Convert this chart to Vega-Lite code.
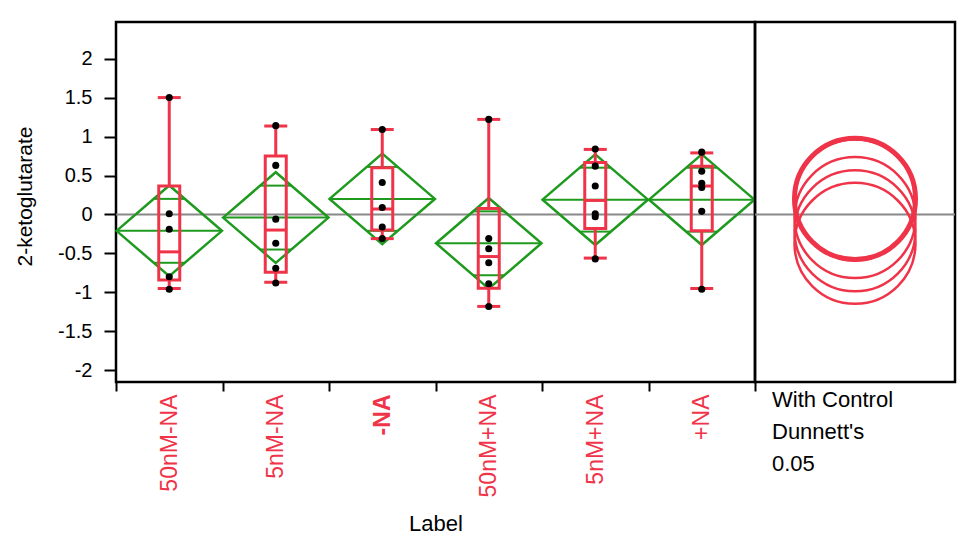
{
  "$schema": "https://vega.github.io/schema/vega-lite/v6.json",
  "padding": {"left": 13, "top": 20, "right": 5, "bottom": 5},
  "background": "white",
  "spacing": 0,
  "bounds": "flush",
  "config": {
    "view": {"stroke": "black", "strokeWidth": 2.5},
    "concat": {"spacing": 0},
    "font": "Liberation Sans"
  },
  "datasets": {
    "stats": [
      {"label": "50nM-NA", "lo": -0.95, "q1": -0.84, "med": -0.48, "q3": 0.365, "hi": 1.5, "mean": -0.21, "ovHi": 0.2, "ovLo": -0.62},
      {"label": "5nM-NA", "lo": -0.87, "q1": -0.74, "med": -0.2, "q3": 0.75, "hi": 1.135, "mean": -0.04, "ovHi": 0.37, "ovLo": -0.45},
      {"label": "-NA", "lo": -0.31, "q1": -0.2, "med": 0.07, "q3": 0.6, "hi": 1.09, "mean": 0.2, "ovHi": 0.61, "ovLo": -0.21},
      {"label": "50nM+NA", "lo": -1.18, "q1": -0.946, "med": -0.54, "q3": 0.077, "hi": 1.22, "mean": -0.37, "ovHi": 0.04, "ovLo": -0.78},
      {"label": "5nM+NA", "lo": -0.56, "q1": -0.18, "med": 0.18, "q3": 0.667, "hi": 0.835, "mean": 0.19, "ovHi": 0.6, "ovLo": -0.22},
      {"label": "+NA", "lo": -0.95, "q1": -0.21, "med": 0.365, "q3": 0.62, "hi": 0.79, "mean": 0.19, "ovHi": 0.6, "ovLo": -0.22}
    ],
    "pts": [
      {"label": "50nM-NA", "v": 1.5}, {"label": "50nM-NA", "v": 0.01}, {"label": "50nM-NA", "v": -0.19}, {"label": "50nM-NA", "v": -0.8}, {"label": "50nM-NA", "v": -0.96},
      {"label": "5nM-NA", "v": 1.14}, {"label": "5nM-NA", "v": 0.63}, {"label": "5nM-NA", "v": -0.06}, {"label": "5nM-NA", "v": -0.37}, {"label": "5nM-NA", "v": -0.69}, {"label": "5nM-NA", "v": -0.88},
      {"label": "-NA", "v": 1.09}, {"label": "-NA", "v": 0.41}, {"label": "-NA", "v": 0.09}, {"label": "-NA", "v": -0.16}, {"label": "-NA", "v": -0.31},
      {"label": "50nM+NA", "v": 1.22}, {"label": "50nM+NA", "v": -0.31}, {"label": "50nM+NA", "v": -0.44}, {"label": "50nM+NA", "v": -0.62}, {"label": "50nM+NA", "v": -0.89}, {"label": "50nM+NA", "v": -1.18},
      {"label": "5nM+NA", "v": 0.84}, {"label": "5nM+NA", "v": 0.62}, {"label": "5nM+NA", "v": 0.365}, {"label": "5nM+NA", "v": 0.01}, {"label": "5nM+NA", "v": -0.03}, {"label": "5nM+NA", "v": -0.57},
      {"label": "+NA", "v": 0.8}, {"label": "+NA", "v": 0.555}, {"label": "+NA", "v": 0.4}, {"label": "+NA", "v": 0.345}, {"label": "+NA", "v": 0.04}, {"label": "+NA", "v": -0.96}
    ],
    "gm": [{"grandMean": 0}]
  },
  "hconcat": [
    {
      "width": 639,
      "height": 360,
      "layer": [
        {
          "data": {"name": "gm"},
          "mark": {"type": "rule", "color": "#888888", "strokeWidth": 2},
          "encoding": {
            "y": {"field": "grandMean", "type": "quantitative", "title": "2-ketoglutarate",
              "scale": {"domain": [-2.15, 2.47], "nice": false, "zero": false},
              "axis": {"values": [-2, -1.5, -1, -0.5, 0, 0.5, 1, 1.5, 2], "labelExpr": "'' + datum.value", "tickSize": 12, "tickWidth": 2, "tickColor": "black", "domain": false, "grid": false, "labelFontSize": 20, "labelColor": "black", "labelPadding": 12, "labelFont": "Liberation Sans", "labelFlush": false, "labelOverlap": false, "titleFont": "Liberation Sans", "titleFontSize": 21, "titleFontWeight": "normal", "titleColor": "black", "titlePadding": 22, "titleY": 174}}
          }
        },
        {
          "data": {"name": "stats"},
          "mark": {"type": "point", "shape": "M -1 0 L 0 -0.86 L 1 0 L 0 0.86 Z", "size": 11109, "filled": false, "color": "#1e9a1e", "strokeWidth": 2.5, "opacity": 1},
          "encoding": {
            "x": {"field": "label", "type": "nominal", "title": "Label",
              "scale": {"domain": ["50nM-NA", "5nM-NA", "-NA", "50nM+NA", "5nM+NA", "+NA"], "paddingInner": 0, "paddingOuter": 0},
              "axis": {"tickBand": "extent", "tickSize": 9, "tickWidth": 2, "tickColor": "black", "domain": false, "grid": false, "labelAngle": -90, "labelFont": "Liberation Sans", "labelFontSize": 23, "labelColor": "#ef3449", "labelPadding": 3, "labelOverlap": false, "labelBound": false,
                "labelFontWeight": {"condition": {"test": "datum.value === '-NA'", "value": "bold"}, "value": "normal"},
                "titleFont": "Liberation Sans", "titleFontSize": 22, "titleFontWeight": "normal", "titleColor": "black", "titlePadding": 17}},
            "y": {"field": "mean", "type": "quantitative", "scale": {"domain": [-2.15, 2.47], "nice": false, "zero": false}}
          }
        },
        {
          "data": {"name": "stats"},
          "mark": {"type": "tick", "color": "#1e9a1e", "size": 105, "thickness": 2, "opacity": 1},
          "encoding": {
            "x": {"field": "label", "type": "nominal", "scale": {"domain": ["50nM-NA", "5nM-NA", "-NA", "50nM+NA", "5nM+NA", "+NA"], "paddingInner": 0, "paddingOuter": 0}},
            "y": {"field": "mean", "type": "quantitative", "scale": {"domain": [-2.15, 2.47], "nice": false, "zero": false}}
          }
        },
        {
          "data": {"name": "stats"},
          "mark": {"type": "tick", "color": "#1e9a1e", "size": 30, "thickness": 2, "opacity": 1},
          "encoding": {
            "x": {"field": "label", "type": "nominal", "scale": {"domain": ["50nM-NA", "5nM-NA", "-NA", "50nM+NA", "5nM+NA", "+NA"], "paddingInner": 0, "paddingOuter": 0}},
            "y": {"field": "ovHi", "type": "quantitative", "scale": {"domain": [-2.15, 2.47], "nice": false, "zero": false}}
          }
        },
        {
          "data": {"name": "stats"},
          "mark": {"type": "tick", "color": "#1e9a1e", "size": 30, "thickness": 2, "opacity": 1},
          "encoding": {
            "x": {"field": "label", "type": "nominal", "scale": {"domain": ["50nM-NA", "5nM-NA", "-NA", "50nM+NA", "5nM+NA", "+NA"], "paddingInner": 0, "paddingOuter": 0}},
            "y": {"field": "ovLo", "type": "quantitative", "scale": {"domain": [-2.15, 2.47], "nice": false, "zero": false}}
          }
        },
        {
          "data": {"name": "stats"},
          "mark": {"type": "rule", "color": "#ef3449", "strokeWidth": 3},
          "encoding": {
            "x": {"field": "label", "type": "nominal", "scale": {"domain": ["50nM-NA", "5nM-NA", "-NA", "50nM+NA", "5nM+NA", "+NA"], "paddingInner": 0, "paddingOuter": 0}},
            "y": {"field": "q3", "type": "quantitative", "scale": {"domain": [-2.15, 2.47], "nice": false, "zero": false}},
            "y2": {"field": "hi"}
          }
        },
        {
          "data": {"name": "stats"},
          "mark": {"type": "rule", "color": "#ef3449", "strokeWidth": 3},
          "encoding": {
            "x": {"field": "label", "type": "nominal", "scale": {"domain": ["50nM-NA", "5nM-NA", "-NA", "50nM+NA", "5nM+NA", "+NA"], "paddingInner": 0, "paddingOuter": 0}},
            "y": {"field": "lo", "type": "quantitative", "scale": {"domain": [-2.15, 2.47], "nice": false, "zero": false}},
            "y2": {"field": "q1"}
          }
        },
        {
          "data": {"name": "stats"},
          "mark": {"type": "bar", "width": 21, "fill": "transparent", "stroke": "#ef3449", "strokeWidth": 3},
          "encoding": {
            "x": {"field": "label", "type": "nominal", "scale": {"domain": ["50nM-NA", "5nM-NA", "-NA", "50nM+NA", "5nM+NA", "+NA"], "paddingInner": 0, "paddingOuter": 0}},
            "y": {"field": "q1", "type": "quantitative", "scale": {"domain": [-2.15, 2.47], "nice": false, "zero": false}},
            "y2": {"field": "q3"}
          }
        },
        {
          "data": {"name": "stats"},
          "mark": {"type": "tick", "color": "#ef3449", "size": 21, "thickness": 3, "opacity": 1},
          "encoding": {
            "x": {"field": "label", "type": "nominal", "scale": {"domain": ["50nM-NA", "5nM-NA", "-NA", "50nM+NA", "5nM+NA", "+NA"], "paddingInner": 0, "paddingOuter": 0}},
            "y": {"field": "med", "type": "quantitative", "scale": {"domain": [-2.15, 2.47], "nice": false, "zero": false}}
          }
        },
        {
          "data": {"name": "stats"},
          "mark": {"type": "tick", "color": "#ef3449", "size": 23, "thickness": 3, "opacity": 1},
          "encoding": {
            "x": {"field": "label", "type": "nominal", "scale": {"domain": ["50nM-NA", "5nM-NA", "-NA", "50nM+NA", "5nM+NA", "+NA"], "paddingInner": 0, "paddingOuter": 0}},
            "y": {"field": "hi", "type": "quantitative", "scale": {"domain": [-2.15, 2.47], "nice": false, "zero": false}}
          }
        },
        {
          "data": {"name": "stats"},
          "mark": {"type": "tick", "color": "#ef3449", "size": 23, "thickness": 3, "opacity": 1},
          "encoding": {
            "x": {"field": "label", "type": "nominal", "scale": {"domain": ["50nM-NA", "5nM-NA", "-NA", "50nM+NA", "5nM+NA", "+NA"], "paddingInner": 0, "paddingOuter": 0}},
            "y": {"field": "lo", "type": "quantitative", "scale": {"domain": [-2.15, 2.47], "nice": false, "zero": false}}
          }
        },
        {
          "data": {"name": "pts"},
          "mark": {"type": "point", "filled": true, "color": "black", "size": 50, "opacity": 1},
          "encoding": {
            "x": {"field": "label", "type": "nominal", "scale": {"domain": ["50nM-NA", "5nM-NA", "-NA", "50nM+NA", "5nM+NA", "+NA"], "paddingInner": 0, "paddingOuter": 0}},
            "y": {"field": "v", "type": "quantitative", "scale": {"domain": [-2.15, 2.47], "nice": false, "zero": false}}
          }
        }
      ]
    },
    {
      "width": 200,
      "height": 360,
      "title": {"text": ["With Control", "Dunnett's", "\u20070.05"], "orient": "bottom", "anchor": "start", "dx": 18, "offset": 8, "font": "Liberation Sans", "fontSize": 22, "fontWeight": "normal", "color": "black", "lineHeight": 32},
      "layer": [
        {
          "data": {"name": "gm"},
          "mark": {"type": "rule", "color": "#888888", "strokeWidth": 2},
          "encoding": {
            "y": {"field": "grandMean", "type": "quantitative", "scale": {"domain": [-2.15, 2.47], "nice": false, "zero": false}, "axis": null}
          }
        },
        {
          "data": {"name": "stats"},
          "mark": {"type": "point", "shape": "circle", "size": 14641, "filled": false, "color": "#ef3449", "opacity": 1},
          "encoding": {
            "y": {"field": "mean", "type": "quantitative", "scale": {"domain": [-2.15, 2.47], "nice": false, "zero": false}, "axis": null},
            "strokeWidth": {"condition": {"test": "datum.label === '-NA'", "value": 5}, "value": 2.5}
          }
        }
      ]
    }
  ]
}
